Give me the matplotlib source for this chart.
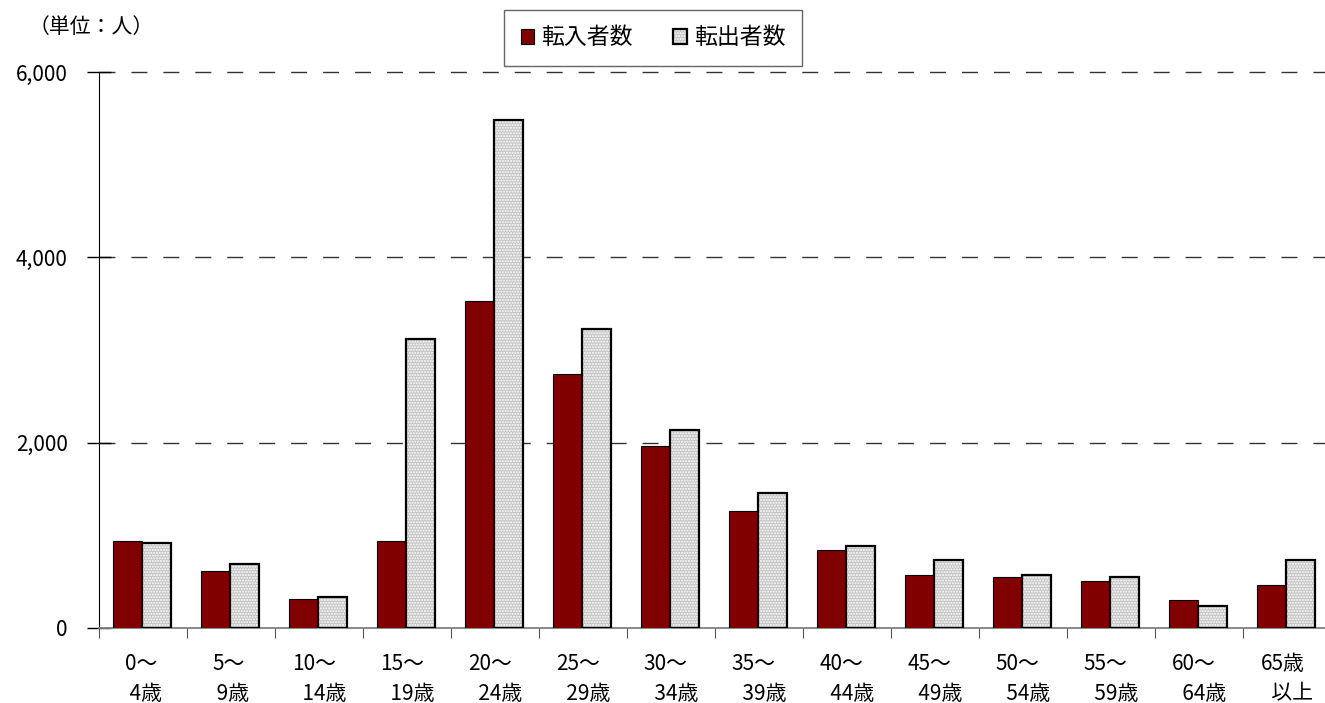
import numpy as np
import matplotlib
matplotlib.use("Agg")
import matplotlib.pyplot as plt
from matplotlib.patches import Patch
from matplotlib.legend_handler import HandlerTuple

plt.rcParams['font.family'] = ['Noto Sans CJK JP', 'DejaVu Sans']

# age groups (two-line labels as in the source)
age_groups = ["0～\n 4歳", "5～\n 9歳", "10～\n\u200214歳", "15～\n\u200219歳", "20～\n\u200224歳",
              "25～\n\u200229歳", "30～\n\u200234歳", "35～\n\u200239歳", "40～\n\u200244歳",
              "45～\n\u200249歳", "50～\n\u200254歳", "55～\n\u200259歳", "60～\n\u200264歳",
              "65歳\n\u2002以上"]
moved_in = [943, 613, 315, 943, 3534, 2739, 1968, 1258, 839, 567, 545, 505, 298, 459]
moved_out = [921, 696, 337, 3122, 5481, 3222, 2140, 1452, 882, 735, 567, 545, 233, 735]
yticks = [0, 2000, 4000, 6000]
ytick_labels = ["0", "2,000", "4,000", "6,000"]

RED = "#800000"
GRAY = "#c4c4c4"
FS = 15

fig = plt.figure(figsize=(13.25, 7.03), dpi=100)
ax = fig.add_axes([99 / 1325, 75 / 703, 1232 / 1325, 556 / 703])

x = np.arange(len(age_groups))
w = 0.335
ax.bar(x - 0.178, moved_in, width=w, color=RED, edgecolor="black", linewidth=0.8, zorder=3)
# dotted grey fill, then black outline on top
ax.bar(x + 0.155, moved_out, width=w, color=GRAY, edgecolor="white", hatch="......",
       linewidth=0, zorder=3)
ax.bar(x + 0.155, moved_out, width=w, fill=False, edgecolor="black", linewidth=1.6, zorder=4)

ax.set_xlim(-0.5, len(age_groups) - 0.5)
ax.set_ylim(0, 6000)
ax.set_yticks(yticks)
ax.set_yticklabels(ytick_labels, fontsize=FS)
ax.tick_params(axis="y", direction="inout", length=17, width=1, pad=14)

ax.set_xticks(x - 0.5, minor=False)
ax.set_xticklabels([])
ax.set_xticks(x, minor=True)
ax.set_xticklabels(age_groups, minor=True, fontsize=FS, linespacing=1.45,
                   multialignment="left")
ax.tick_params(axis="x", which="major", direction="out", length=7, color="#555555")
ax.tick_params(axis="x", which="minor", length=0, pad=18)

for y in yticks[1:]:
    ax.axhline(y, color="#333333", linewidth=1, linestyle=(0, (11.5, 11.5)), zorder=1,
               clip_on=False)

for s in ["top", "right"]:
    ax.spines[s].set_visible(False)
ax.spines["left"].set_color("black")
ax.spines["bottom"].set_color("#808080")
ax.spines["bottom"].set_linewidth(1.3)

fig.text(29 / 1325, 1 - 27 / 703, "（単位：人）", fontsize=FS, va="center", ha="left")

h_in = Patch(facecolor=RED, edgecolor="black", linewidth=0.8)
h_out = (Patch(facecolor=GRAY, edgecolor="white", hatch="......", linewidth=0),
         Patch(fill=False, edgecolor="black", linewidth=1.6))
leg = fig.legend([h_in, h_out], ["転入者数", "転出者数"], ncol=2, loc="upper left",
                 bbox_to_anchor=(504 / 1325, 1 - 10 / 703), fontsize=16.5,
                 handlelength=0.6, handleheight=0.6, handletextpad=0.28,
                 columnspacing=1.8, borderpad=0.72, borderaxespad=0, fancybox=False,
                 handler_map={tuple: HandlerTuple(ndivide=1)})
leg.get_frame().set_edgecolor("#404040")
leg.get_frame().set_linewidth(1)

fig.savefig("out.png", dpi=100)
